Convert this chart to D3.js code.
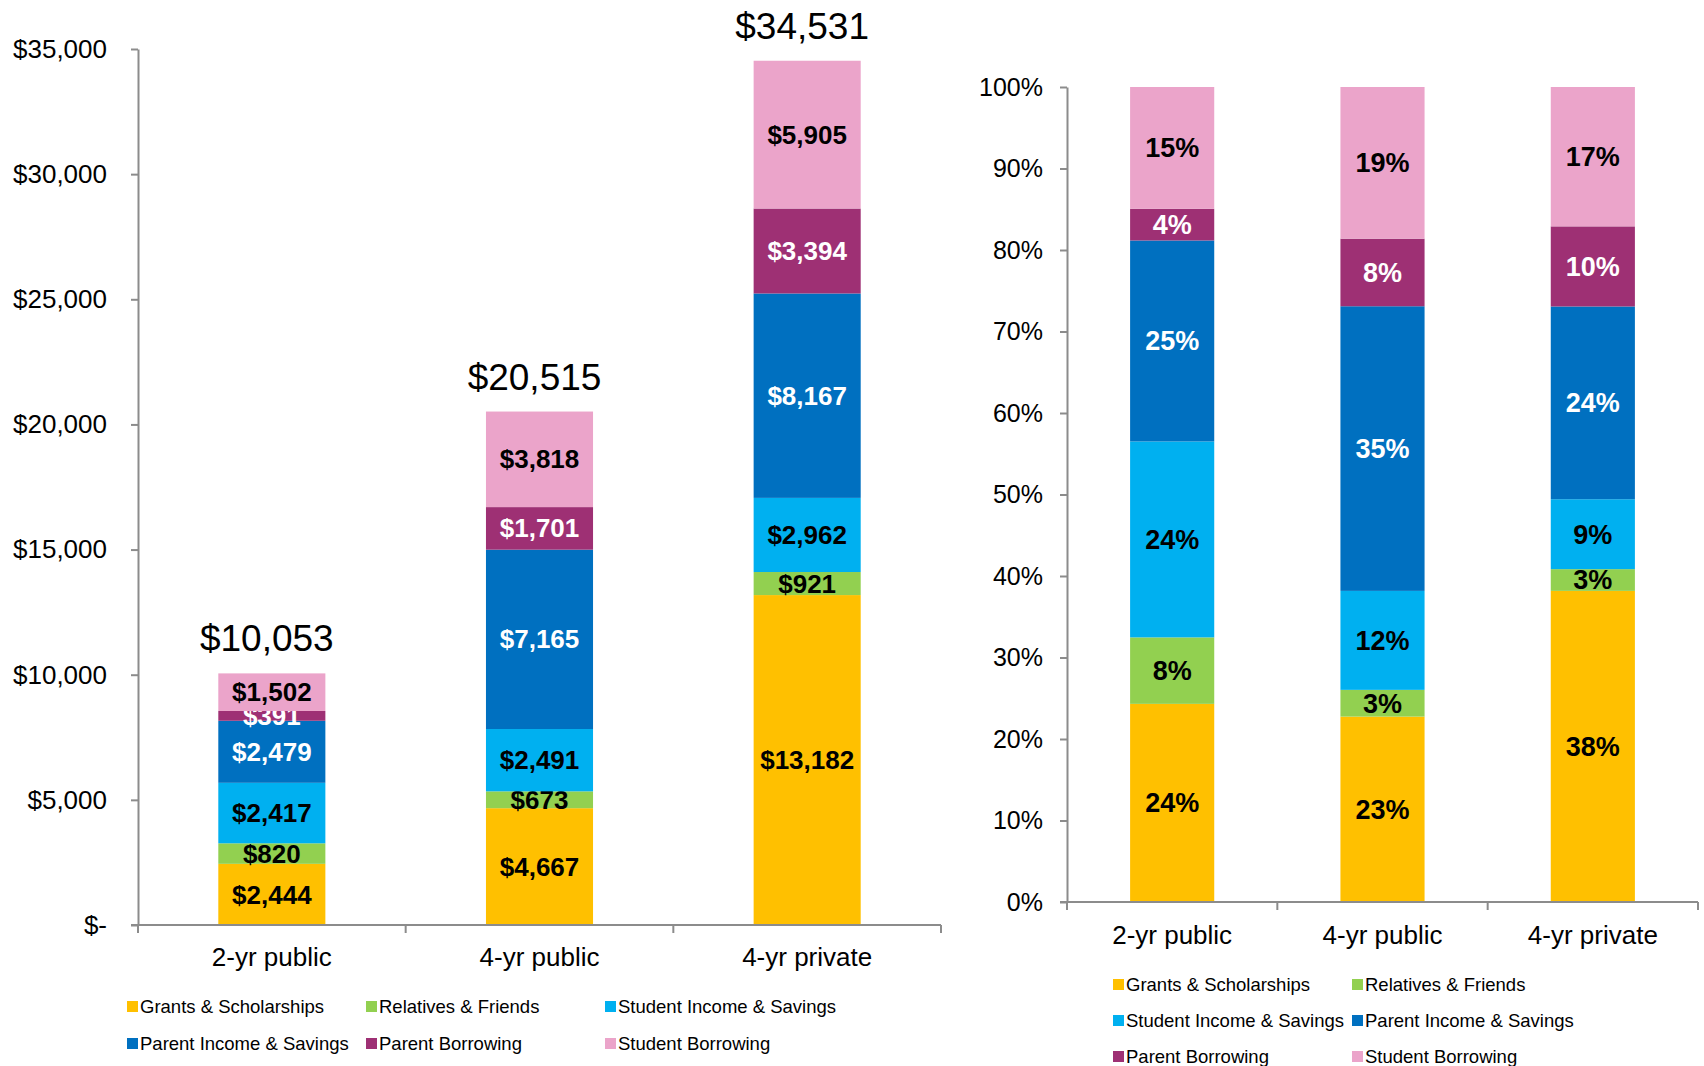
<!DOCTYPE html>
<html>
<head>
<meta charset="utf-8">
<script src="https://d3js.org/d3.v7.min.js"></script>
<style>
  body { margin: 0; background: #fff; }
  svg { display: block; font-family: "Liberation Sans", Arial, sans-serif; }
</style>
</head>
<body>
<script>
// data
var categories = ["2-yr public", "4-yr public", "4-yr private"];
var seriesNames = ["Grants & Scholarships", "Relatives & Friends", "Student Income & Savings",
                   "Parent Income & Savings", "Parent Borrowing", "Student Borrowing"];
var grants = [2444, 4667, 13182];
var relatives = [820, 673, 921];
var studentIncome = [2417, 2491, 2962];
var parentIncome = [2479, 7165, 8167];
var parentBorrowing = [391, 1701, 3394];
var studentBorrowing = [1502, 3818, 5905];
var dollarTicks = [0, 5000, 10000, 15000, 20000, 25000, 30000, 35000];
var pctTicks = [0, 0.1, 0.2, 0.3, 0.4, 0.5, 0.6, 0.7, 0.8, 0.9, 1];

var colors = ["#FFC000", "#92D050", "#00B0F0", "#0070C0", "#9E3074", "#EBA4CA"];
var labelColors = ["#000", "#000", "#000", "#fff", "#fff", "#000"];

var allSeries = [grants, relatives, studentIncome, parentIncome, parentBorrowing, studentBorrowing];
var rows = categories.map(function(c, i) {
  var r = { cat: c };
  seriesNames.forEach(function(k, j) { r[k] = allSeries[j][i]; });
  return r;
});

var width = 1704, height = 1066;
var svg = d3.select("body").append("svg")
  .attr("width", width)
  .attr("height", height);

var color = d3.scaleOrdinal().domain(seriesNames).range(colors);
var labelColor = d3.scaleOrdinal().domain(seriesNames).range(labelColors);
var axisColor = "#8c8c8c";

var dollarFmt = function(v) { return v === 0 ? "$-" : "$" + d3.format(",")(v); };

// ---------- LEFT: dollars ----------
var L = { x0: 138, x1: 941, y0: 925, y1: 49 };
var xL = d3.scaleBand().domain(categories).range([L.x0, L.x1]).paddingInner(0.6).paddingOuter(0.3);
var yL = d3.scaleLinear().domain([0, 35000]).range([L.y0, L.y1]);

var stackL = d3.stack().keys(seriesNames)(rows);
drawStack(svg.append("g"), stackL, xL, yL, 26, function(d) { return dollarFmt(d.data[d.key]); });

// y axis
var gyL = svg.append("g").attr("transform", "translate(" + L.x0 + ",0)")
  .call(d3.axisLeft(yL).tickValues(dollarTicks).tickFormat(dollarFmt).tickSize(7).tickSizeOuter(0).tickPadding(24));
styleAxis(gyL, 26);
drawXAxis(svg, xL, L.y0, L.x0, L.x1);

// totals above bars
svg.append("g").selectAll("text")
  .data(rows)
  .join("text")
    .attr("x", function(d) { return xL(d.cat) + xL.bandwidth() / 2 - 5; })
    .attr("y", function(d) { return yL(d3.sum(seriesNames, function(k) { return d[k]; })) - 22; })
    .attr("text-anchor", "middle")
    .style("font-size", "37px")
    .style("fill", "#000")
    .text(function(d) { return dollarFmt(d3.sum(seriesNames, function(k) { return d[k]; })); });

// category labels
catLabels(svg, xL, 966);
legend(svg, [127, 366, 605], [1007, 1044], 3);

// ---------- RIGHT: shares ----------
var R = { x0: 1067, x1: 1698, y0: 902, y1: 87 };
var xR = d3.scaleBand().domain(categories).range([R.x0, R.x1]).paddingInner(0.6).paddingOuter(0.3);
var yR = d3.scaleLinear().domain([0, 1]).range([R.y0, R.y1]);

var stackR = d3.stack().keys(seriesNames).offset(d3.stackOffsetExpand)(rows);
drawStack(svg.append("g"), stackR, xR, yR, 27, function(d) { return d3.format(".0%")(d[1] - d[0]); });

var gyR = svg.append("g").attr("transform", "translate(" + R.x0 + ",0)")
  .call(d3.axisLeft(yR).tickValues(pctTicks).tickFormat(d3.format(".0%")).tickSize(7).tickSizeOuter(0).tickPadding(17));
styleAxis(gyR, 25);
drawXAxis(svg, xR, R.y0, R.x0, R.x1);
catLabels(svg, xR, 944);
legend(svg, [1113, 1352], [985, 1021, 1057], 2);

// ---------- helpers ----------
function drawStack(g, stacked, x, y, size, fmt) {
  var layer = g.selectAll("g")
    .data(stacked)
    .join("g")
      .attr("fill", function(s) { return color(s.key); });

  layer.selectAll("rect")
    .data(function(s) { return s.map(function(d) { d.key = s.key; return d; }); })
    .join("rect")
      .attr("x", function(d) { return x(d.data.cat); })
      .attr("y", function(d) { return y(d[1]); })
      .attr("width", x.bandwidth())
      .attr("height", function(d) { return y(d[0]) - y(d[1]); });

  layer.selectAll("text")
    .data(function(s) { return s; })
    .join("text")
      .attr("x", function(d) { return x(d.data.cat) + x.bandwidth() / 2; })
      .attr("y", function(d) { return (y(d[0]) + y(d[1])) / 2; })
      .attr("dy", "0.35em")
      .attr("text-anchor", "middle")
      .style("font-size", size + "px")
      .style("font-weight", "bold")
      .style("fill", function(d) { return labelColor(d.key); })
      .text(fmt);
}

function styleAxis(g, size) {
  g.select(".domain").attr("stroke", axisColor).attr("stroke-width", 2);
  g.selectAll(".tick line").attr("stroke", axisColor).attr("stroke-width", 2);
  g.selectAll(".tick text")
    .style("font-size", size + "px")
    .style("font-family", "'Liberation Sans', Arial, sans-serif")
    .style("fill", "#000");
}

function drawXAxis(parent, x, y0, a, b) {
  var g = parent.append("g");
  g.append("line")
    .attr("x1", a - 7).attr("x2", b)
    .attr("y1", y0).attr("y2", y0)
    .attr("stroke", axisColor).attr("stroke-width", 2);
  var edges = [a].concat(x.domain().map(function(c) { return x(c) + x.bandwidth() / 2 + x.step() / 2; }));
  g.selectAll("line.tk")
    .data(edges)
    .join("line")
      .attr("class", "tk")
      .attr("x1", function(d) { return d; }).attr("x2", function(d) { return d; })
      .attr("y1", y0).attr("y2", y0 + 8)
      .attr("stroke", axisColor).attr("stroke-width", 2);
}

function catLabels(parent, x, yBase) {
  parent.append("g").selectAll("text")
    .data(x.domain())
    .join("text")
      .attr("x", function(d) { return x(d) + x.bandwidth() / 2; })
      .attr("y", yBase)
      .attr("text-anchor", "middle")
      .style("font-size", "26px")
      .style("fill", "#000")
      .text(function(d) { return d; });
}

function legend(parent, xs, ys, cols) {
  var item = parent.append("g").selectAll("g")
    .data(seriesNames)
    .join("g")
      .attr("transform", function(d, i) {
        return "translate(" + xs[i % cols] + "," + ys[Math.floor(i / cols)] + ")";
      });
  item.append("rect")
    .attr("x", 0).attr("y", -6)
    .attr("width", 11).attr("height", 11)
    .attr("fill", function(d) { return color(d); });
  item.append("text")
    .attr("x", 13)
    .attr("dy", "0.35em")
    .style("font-size", "18.5px")
    .style("fill", "#000")
    .text(function(d) { return d; });
}
</script>
</body>
</html>
